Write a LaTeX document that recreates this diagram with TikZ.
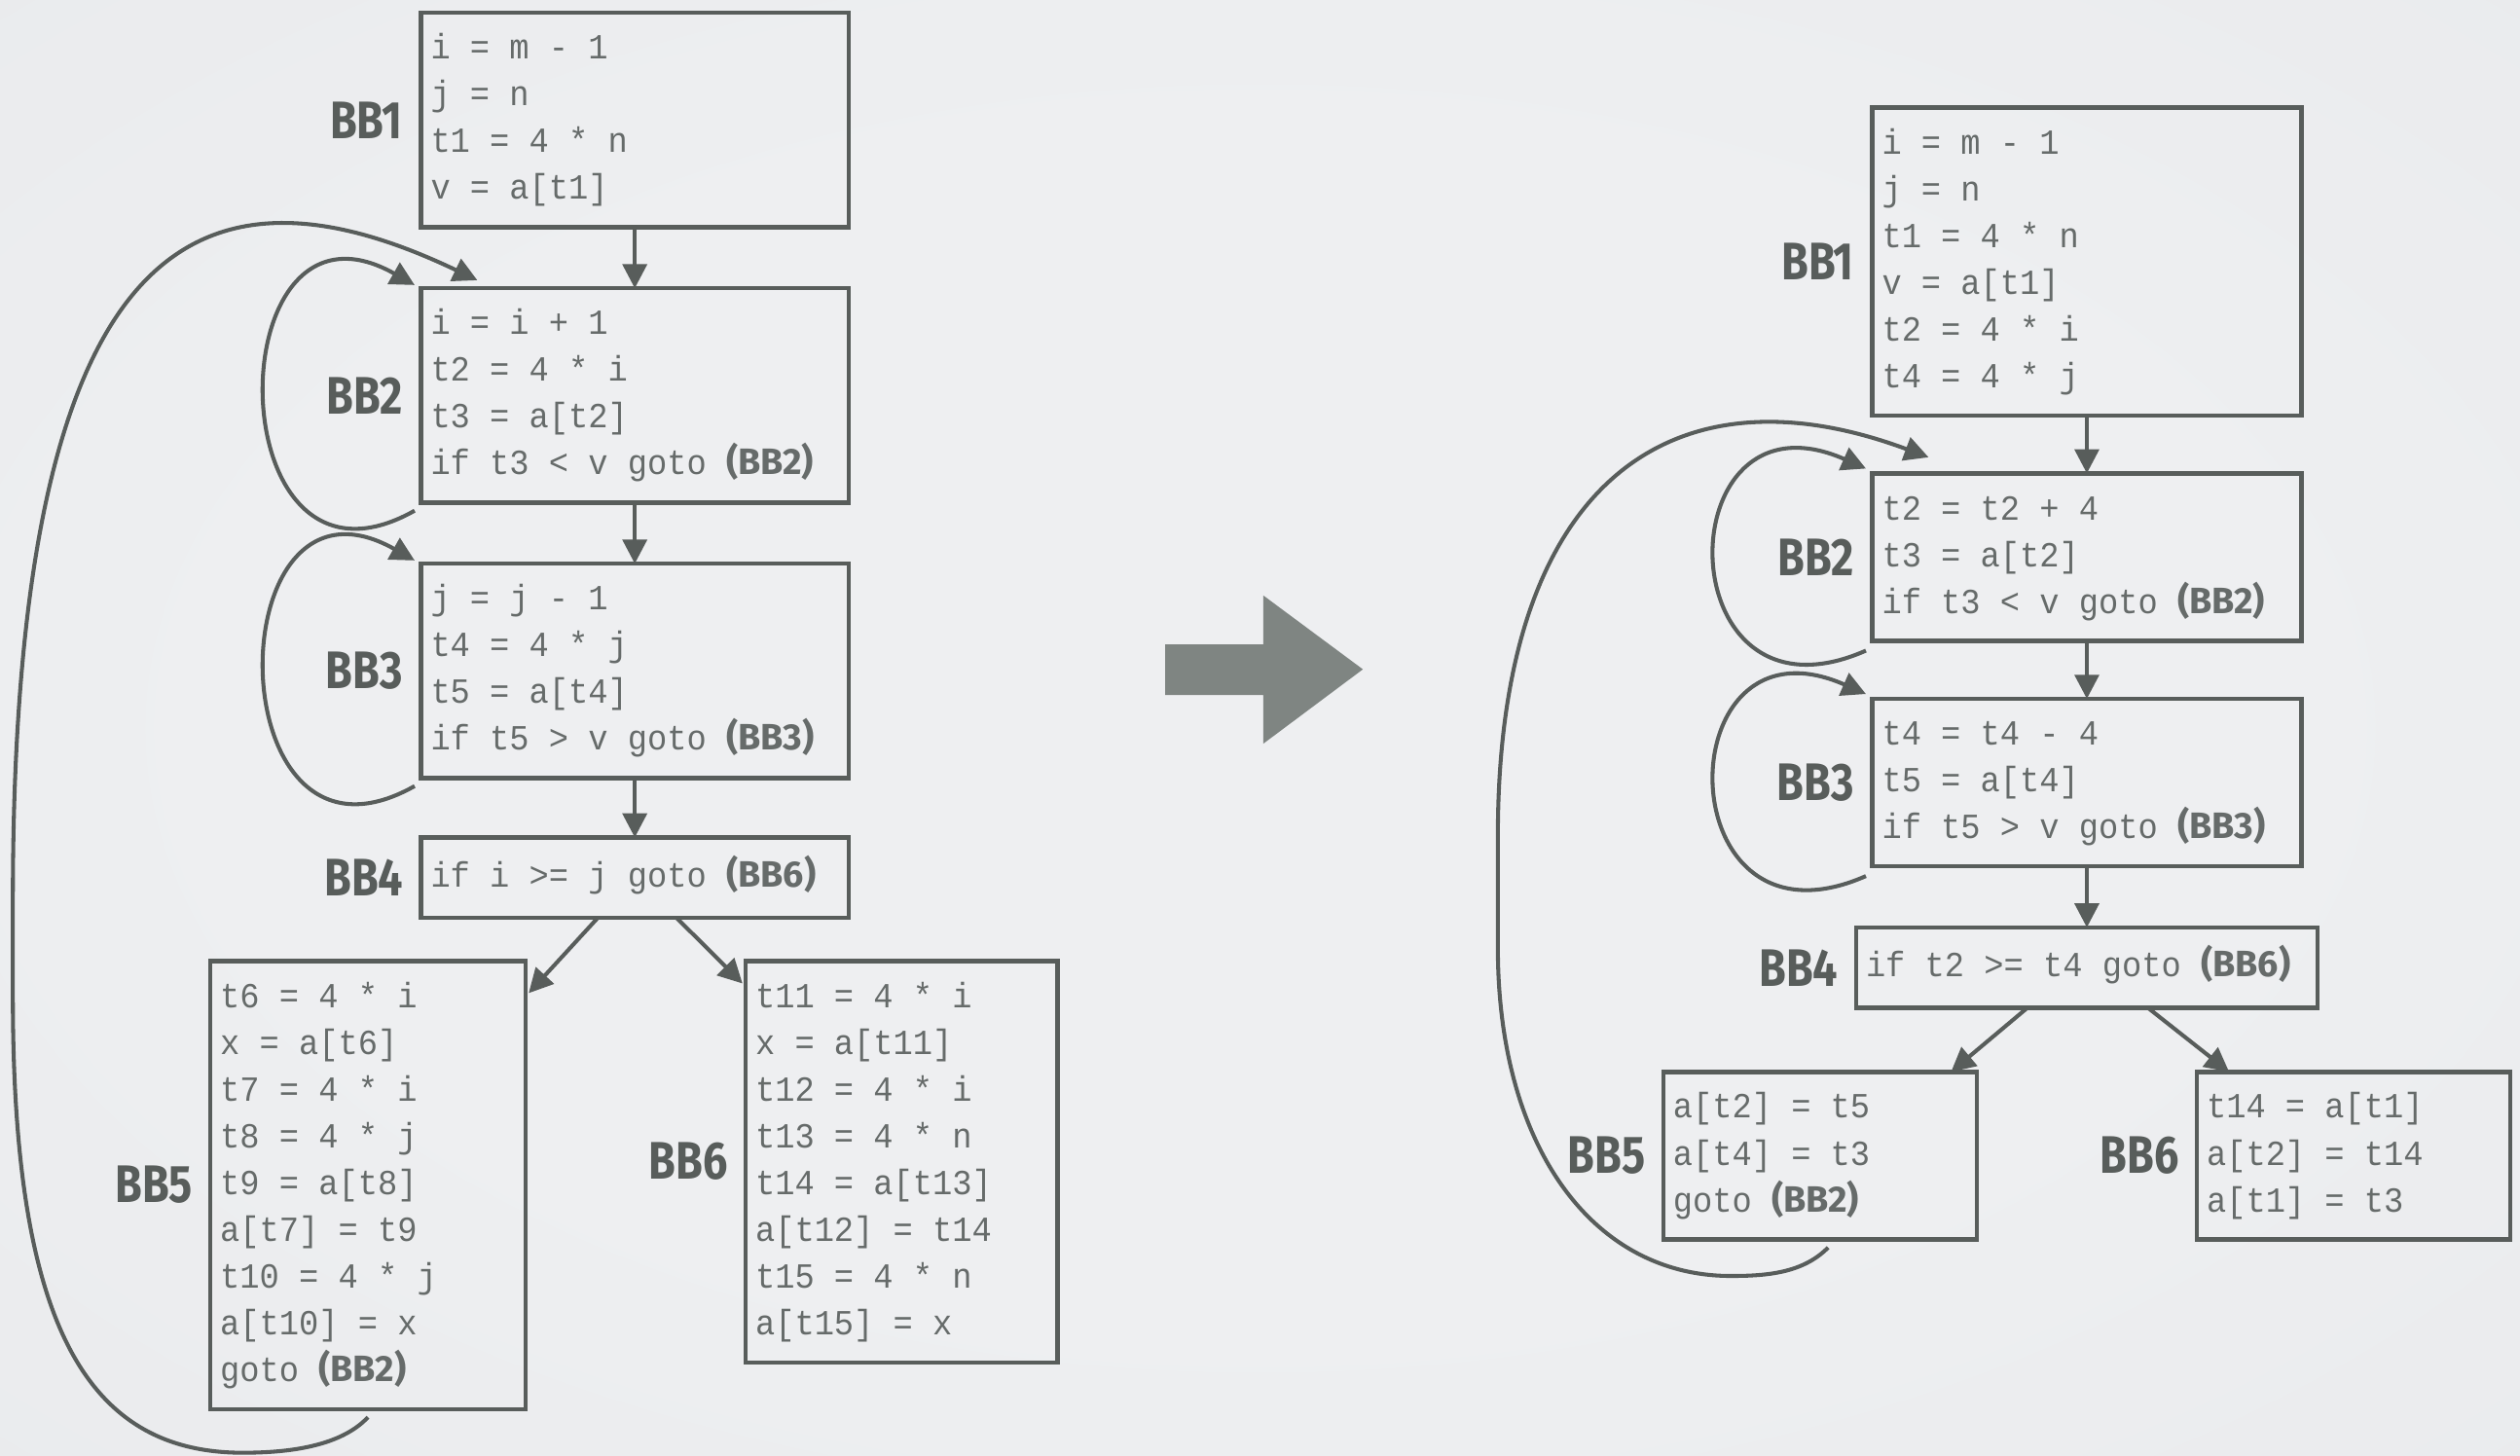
\documentclass[tikz,border=0pt]{standalone}
\usepackage{fontspec}
\usepackage{xcolor}
\usepackage{tikz}
\usetikzlibrary{arrows.meta, positioning, calc}

\newfontfamily\codefont[FakeStretch=0.93]{Liberation Mono}
\newfontfamily\tagfont[FakeStretch=0.83]{Fira Sans}
\newfontfamily\jumpfont{Fira Sans}
\newcommand{\codesize}{\codefont\fontsize{12.5pt}{16.56pt}\selectfont}
% every space as wide as one character of the code font
\newcommand{\monospaces}{\spaceskip=\fontcharwd\font`0\relax\xspaceskip=\spaceskip}
\newcommand{\jmp}[1]{{\jumpfont\bfseries\fontsize{13pt}{16.56pt}\selectfont(#1)}}

\definecolor{ink}{RGB}{88,93,91}
\definecolor{code}{RGB}{102,107,106}
\definecolor{fatarrow}{RGB}{127,133,130}
\definecolor{bgin}{RGB}{238,239,241}
\definecolor{bgout}{RGB}{225,227,229}
\pgfdeclareradialshading{glow}{\pgfpoint{0bp}{0bp}}{color(0bp)=(bgin); color(20bp)=(bgin); color(71bp)=(bgout)}

\tikzset{
  bb/.style={rectangle, draw=ink, line width=1.5pt, text=code, align=left,
             inner xsep=0.12cm, inner ysep=4.84pt, outer sep=0pt, text width=5.08cm,
             font=\codesize,
             execute at begin node={\monospaces\strut}, execute at end node=\strut},
  tag/.style={inner sep=0pt, text=ink,
              font=\tagfont\bfseries\fontsize{18.7pt}{20pt}\selectfont},
  arc/.style={-{Triangle[width=0.3cm, length=0.3cm]}, draw=ink, line width=1.4pt}
}

\begin{document}
\begin{tikzpicture}[x=0.02cm, y=-0.02cm, node distance=0.76cm]
  \shade[shading=glow] (0,0) rectangle (1568,906);
  \useasboundingbox (0,0) rectangle (1568,906);

  % original flow graph
  \node[bb, anchor=north west] (l1) at (262,8) {i = m - 1\\j = n\\t1 = 4 * n\\v = a[t1]};
  \node[bb, below=of l1] (l2) {i = i + 1\\t2 = 4 * i\\t3 = a[t2]\\if t3 < v goto \jmp{BB2}};
  \node[bb, below=of l2] (l3) {j = j - 1\\t4 = 4 * j\\t5 = a[t4]\\if t5 > v goto \jmp{BB3}};
  \node[bb, below=0.74cm of l3, minimum height=1cm] (l4) {if i >= j goto \jmp{BB6}};
  \node[bb, anchor=north west, text width=3.68cm] (l5) at (131,598)
    {t6 = 4 * i\\x = a[t6]\\t7 = 4 * i\\t8 = 4 * j\\t9 = a[t8]\\a[t7] = t9\\t10 = 4 * j\\a[t10] = x\\goto \jmp{BB2}};
  \node[bb, anchor=north west, text width=3.64cm] (l6) at (464,598)
    {t11 = 4 * i\\x = a[t11]\\t12 = 4 * i\\t13 = 4 * n\\t14 = a[t13]\\a[t12] = t14\\t15 = 4 * n\\a[t15] = x};

  % after strength reduction
  \node[bb, anchor=north west, text width=5.10cm] (r1) at (1165,67)
    {i = m - 1\\j = n\\t1 = 4 * n\\v = a[t1]\\t2 = 4 * i\\t4 = 4 * j};
  \node[bb, text width=5.10cm, below=0.72cm of r1] (r2) {t2 = t2 + 4\\t3 = a[t2]\\if t3 < v goto \jmp{BB2}};
  \node[bb, text width=5.10cm, below=0.72cm of r2] (r3) {t4 = t4 - 4\\t5 = a[t4]\\if t5 > v goto \jmp{BB3}};
  \node[bb, text width=5.50cm, below=0.76cm of r3, minimum height=1cm] (r4) {if t2 >= t4 goto \jmp{BB6}};
  \node[bb, anchor=north west, text width=3.66cm] (r5) at (1035,667) {a[t2] = t5\\a[t4] = t3\\goto \jmp{BB2}};
  \node[bb, anchor=north west, text width=3.66cm] (r6) at (1367,667) {t14 = a[t1]\\a[t2] = t14\\a[t1] = t3};

  % block names
  \foreach \n in {1,...,6} {
    \node[tag, left=0.22cm of l\n] (tl\n) {BB\n};
    \node[tag, left=0.22cm of r\n] (tr\n) {BB\n};
  }

  % straight edges
  \draw[arc] (l1) -- (l2);
  \draw[arc] (l2) -- (l3);
  \draw[arc] (l3) -- (l4);
  \draw[arc] ($(l4.south)+(-23,0)$) -- ($(l5.north east)+(2,20)$);
  \draw[arc] ($(l4.south)+(26,0)$) -- ($(l6.north west)+(-2,14)$);
  \draw[arc] (r1) -- (r2);
  \draw[arc] (r2) -- (r3);
  \draw[arc] (r3) -- (r4);
  \draw[arc] ($(r4.south)+(-37,0)$) -- ($(r5.north east)+(-16,0)$);
  \draw[arc] ($(r4.south)+(38,0)$) -- ($(r6.north west)+(20,0)$);

  % self loops
  \foreach \b in {l2,l3}
    \draw[arc] ($(\b.south west)+(-4,5)$) .. controls +(-124,70) and +(-124,-70) .. ($(\b.north west)+(-4,-2)$);
  \foreach \b in {r2,r3}
    \draw[arc] ($(\b.south west)+(-4,6)$) .. controls +(-125,55) and +(-125,-55) .. ($(\b.north west)+(-4,-3)$);

  % back edges BB5 -> BB2
  \draw[arc] ($(l5.south)+(0,5)$) .. controls (212,900) and (180,904) .. (151,904)
    .. controls (51,904) and (8,819) .. (8,620) -- (8,560)
    .. controls (8,150) and (120,90) .. ($(l2.north west)+(35,-5)$);
  \draw[arc] ($(r5.south)+(5,5)$) .. controls (1122,792) and (1100,794) .. (1077,794)
    .. controls (990,794) and (932,712) .. (932,590) -- (932,520)
    .. controls (932,300) and (1040,225) .. ($(r2.north west)+(35,-10)$);

  % transformation arrow
  \fill[fatarrow] (725,401) -- (786,401) -- (786,370.5) -- (848,416.5)
    -- (786,462.8) -- (786,432.5) -- (725,432.5) -- cycle;
\end{tikzpicture}
\end{document}
